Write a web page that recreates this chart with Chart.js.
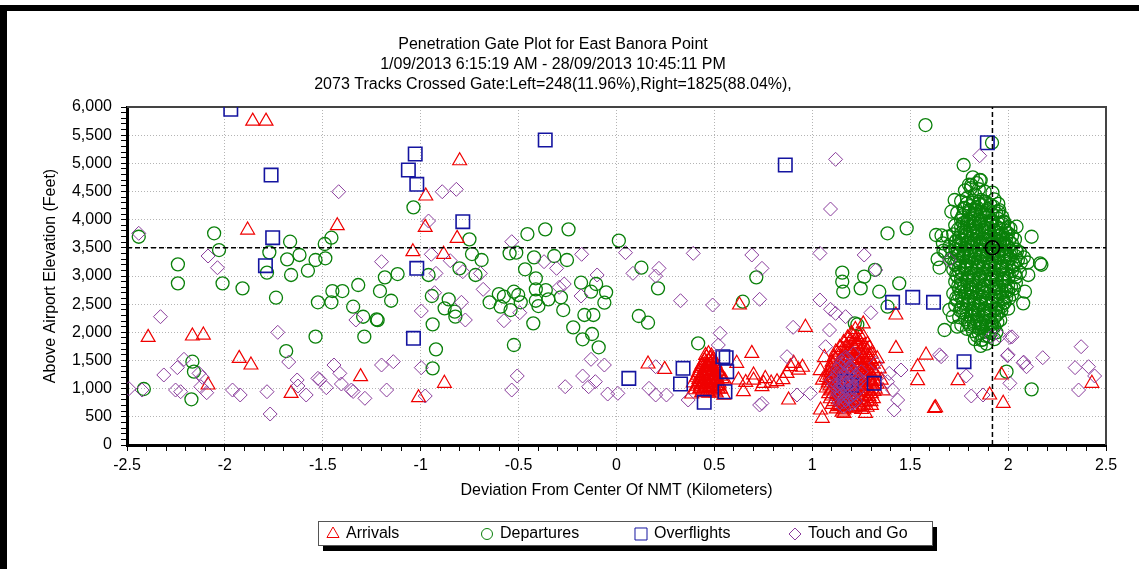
<!DOCTYPE html>
<html>
<head>
<meta charset="utf-8">
<title>Penetration Gate Plot</title>
<script src="https://cdn.jsdelivr.net/npm/chart.js@4.4.0/dist/chart.umd.min.js"></script>
<style>
    html, body { margin: 0; padding: 0; background: #fff; overflow: hidden; }
    canvas { display: block; }
</style>
</head>
<body>
<canvas id="gate-chart" width="1139" height="569"></canvas>
<script>
// Titles and labels
const titleLines = [
    "Penetration Gate Plot for East Banora Point",
    "1/09/2013 6:15:19 AM - 28/09/2013 10:45:11 PM",
    "2073 Tracks Crossed Gate:Left=248(11.96%),Right=1825(88.04%),",
];
const xAxisTitle = "Deviation From Center Of NMT (Kilometers)";
const yAxisTitle = "Above Airport Elevation (Feet)";
const seriesNames = ["Arrivals", "Departures", "Overflights", "Touch and Go"];

// Axis ranges and gate centre
const xRange = [-2.5, 2.5];
const yRange = [0, 6000];
const gateX = 1.92;
const gateY = 3500;

// Arrivals (km, ft)
const arrivals = [
    [-1.858, 5750], [-1.79, 5750], [-1.884, 3816], [-1.426, 3893], [-0.974, 4420], [-0.977, 3864],
    [-1.04, 3431], [-0.883, 3385], [-0.801, 5046], [-0.814, 3668], [-2.392, 1911], [-2.166, 1935],
    [-2.11, 1952], [-1.927, 1538], [-1.867, 1420], [-2.086, 1065], [-1.662, 917], [-1.307, 1213],
    [-1.011, 840], [-0.879, 1095], [0.161, 1438], [0.246, 1343], [0.628, 2485], [0.691, 1627],
    [0.7, 1243], [0.623, 1154], [0.614, 1450], [0.743, 1035], [0.648, 946], [1.427, 2308], [1.427, 1716],
    [1.581, 1597], [1.538, 1390], [1.538, 1141], [1.744, 1141], [1.624, 650], [1.63, 662], [1.906, 888],
    [1.975, 740], [1.966, 1243], [2.428, 1095], [0.965, 2089], [0.751, 1095], [0.82, 1124], [0.79, 1100],
    [0.85, 1160], [0.888, 1390], [0.905, 1450], [0.871, 1272], [0.879, 799], [0.93, 1330], [0.66, 1110],
    [0.7, 1150], [0.76, 1180], [0.95, 1380], [1.042, 621], [1.051, 474], [1.162, 562],
    // cluster near 0.47 km
    [0.47, 1620], [0.46, 1555], [0.485, 1580], [0.45, 1500], [0.472, 1488], [0.494, 1525], [0.438, 1432],
    [0.462, 1418], [0.483, 1445], [0.503, 1452], [0.428, 1362], [0.452, 1349], [0.474, 1371], [0.492, 1338],
    [0.512, 1383], [0.418, 1284], [0.441, 1268], [0.463, 1292], [0.482, 1257], [0.501, 1281], [0.522, 1302],
    [0.409, 1203], [0.432, 1187], [0.451, 1214], [0.473, 1178], [0.492, 1204], [0.513, 1186], [0.531, 1222],
    [0.421, 1124], [0.443, 1098], [0.462, 1133], [0.484, 1109], [0.503, 1121], [0.524, 1097], [0.412, 1043],
    [0.433, 1028], [0.452, 1052], [0.471, 1019], [0.493, 1041], [0.514, 1032], [0.441, 962], [0.463, 948],
    [0.482, 973], [0.502, 958], [0.402, 981], [0.532, 993], [0.392, 1102], [0.552, 1152], [0.384, 905],
    [0.548, 884], [0.455, 1590], [0.478, 1530], [0.458, 1465], [0.49, 1480], [0.437, 1395], [0.467, 1400],
    [0.5, 1410], [0.425, 1318], [0.458, 1325], [0.488, 1310], [0.515, 1330], [0.416, 1240], [0.447, 1232],
    [0.478, 1226], [0.51, 1240], [0.528, 1262], [0.42, 1162], [0.452, 1170], [0.482, 1148], [0.512, 1155],
    [0.54, 1180], [0.43, 1072], [0.462, 1075], [0.494, 1078], [0.522, 1060], [0.425, 1000], [0.455, 995],
    [0.487, 1005], [0.52, 995], [0.435, 930], [0.472, 920], [0.51, 925],
    // cluster near 1.2 km
    [1.22, 2050], [1.26, 2150], [1.2, 1980], [1.24, 1960], [1.18, 1900], [1.222, 1880], [1.262, 1912],
    [1.16, 1820], [1.203, 1802], [1.243, 1833], [1.282, 1791], [1.14, 1730], [1.181, 1712], [1.213, 1741],
    [1.251, 1703], [1.292, 1722], [1.12, 1650], [1.162, 1631], [1.198, 1662], [1.232, 1618], [1.271, 1642],
    [1.302, 1611], [1.111, 1560], [1.152, 1541], [1.191, 1572], [1.224, 1533], [1.262, 1552], [1.291, 1521],
    [1.101, 1472], [1.133, 1451], [1.172, 1483], [1.21, 1441], [1.243, 1469], [1.281, 1452], [1.312, 1433],
    [1.092, 1381], [1.121, 1362], [1.163, 1392], [1.191, 1351], [1.232, 1372], [1.271, 1341], [1.302, 1362],
    [1.083, 1291], [1.112, 1272], [1.151, 1302], [1.182, 1262], [1.221, 1283], [1.252, 1251], [1.291, 1292],
    [1.322, 1263], [1.072, 1202], [1.101, 1181], [1.142, 1212], [1.171, 1172], [1.212, 1193], [1.241, 1161],
    [1.282, 1203], [1.311, 1172], [1.081, 1102], [1.122, 1091], [1.153, 1121], [1.192, 1083], [1.231, 1112],
    [1.262, 1071], [1.301, 1103], [1.331, 1082], [1.071, 1012], [1.102, 991], [1.141, 1022], [1.182, 982],
    [1.212, 1003], [1.251, 972], [1.282, 1011], [1.322, 992], [1.083, 912], [1.122, 893], [1.161, 921],
    [1.192, 882], [1.232, 903], [1.271, 871], [1.302, 912], [1.092, 821], [1.132, 802], [1.171, 832],
    [1.203, 791], [1.242, 812], [1.281, 782], [1.312, 823], [1.102, 722], [1.141, 701], [1.182, 733],
    [1.221, 692], [1.262, 712], [1.302, 703], [1.122, 641], [1.162, 622], [1.203, 653], [1.252, 633],
    [1.052, 1152], [1.041, 1322], [1.352, 1151], [1.342, 1352], [1.361, 962], [1.332, 1532], [1.062, 1552],
    [1.152, 582], [1.272, 561],
    [1.21, 1930], [1.235, 1870], [1.195, 1850], [1.175, 1760], [1.228, 1780], [1.265, 1760], [1.155, 1690],
    [1.19, 1680], [1.245, 1670], [1.28, 1680], [1.13, 1600], [1.17, 1590], [1.215, 1580], [1.25, 1600],
    [1.285, 1580], [1.12, 1510], [1.16, 1515], [1.2, 1500], [1.235, 1510], [1.27, 1500], [1.3, 1490],
    [1.105, 1420], [1.14, 1410], [1.18, 1400], [1.22, 1410], [1.26, 1400], [1.295, 1410], [1.1, 1330],
    [1.135, 1320], [1.175, 1310], [1.21, 1320], [1.25, 1310], [1.285, 1320], [1.315, 1310], [1.09, 1240],
    [1.13, 1240], [1.16, 1230], [1.2, 1240], [1.235, 1225], [1.27, 1235], [1.305, 1225], [1.085, 1150],
    [1.125, 1145], [1.16, 1150], [1.2, 1140], [1.235, 1150], [1.27, 1140], [1.3, 1150], [1.32, 1130],
    [1.09, 1050], [1.13, 1045], [1.165, 1060], [1.2, 1040], [1.24, 1050], [1.275, 1040], [1.31, 1050],
    [1.095, 960], [1.135, 950], [1.17, 965], [1.21, 955], [1.245, 940], [1.285, 960], [1.315, 950],
    [1.1, 870], [1.14, 860], [1.18, 850], [1.215, 860], [1.255, 850], [1.29, 860], [1.11, 770], [1.15, 760],
    [1.19, 770], [1.23, 760], [1.27, 750], [1.3, 770], [1.13, 680], [1.17, 670], [1.21, 660], [1.24, 680],
    [1.28, 670],
];

// Departures (km, ft)
const departures = [
    [-2.44, 3697], [-2.055, 3758], [-2.03, 3461], [-1.667, 3609], [-1.773, 3420], [-1.785, 3059],
    [-1.682, 3296], [-1.619, 3373], [-1.662, 3018], [-1.576, 3094], [-1.537, 3284], [-1.487, 3314],
    [-1.49, 3568], [-1.456, 3680], [-2.24, 3207], [-2.24, 2870], [-2.012, 2870], [-1.91, 2781],
    [-1.739, 2615], [-0.96, 3018], [-1.183, 2976], [-1.118, 3035], [-1.319, 2840], [-1.208, 2733],
    [-1.151, 2561], [-1.451, 2733], [-1.4, 2733], [-1.525, 2533], [-1.456, 2533], [-0.943, 2645],
    [-0.878, 2426], [-1.345, 2455], [-1.294, 2277], [-1.225, 2231], [-1.22, 2215], [-0.939, 2142],
    [-1.288, 1923], [-1.537, 1923], [-1.687, 1668], [-0.922, 1698], [-0.939, 1361], [-2.166, 1479],
    [-2.158, 1302], [-2.414, 994], [-2.171, 811], [-1.037, 4219],
    [-0.751, 3651], [-0.738, 3390], [-0.689, 3284], [-0.802, 3136], [-0.72, 3018], [-0.857, 2586],
    [-0.826, 2366], [-0.823, 2278], [-0.455, 3745], [-0.364, 3828], [-0.245, 3828], [0.012, 3627],
    [-0.546, 3402], [-0.512, 3414], [-0.421, 3331], [-0.318, 3355], [-0.253, 3284], [-0.467, 3119],
    [-0.412, 2959], [-0.601, 2680], [-0.575, 2633], [-0.524, 2721], [-0.502, 2663], [-0.412, 2763],
    [-0.361, 2751], [-0.648, 2533], [-0.592, 2455], [-0.541, 2396], [-0.489, 2533], [-0.412, 2561],
    [-0.399, 2467], [-0.348, 2586], [-0.284, 2622], [-0.272, 2396], [-0.425, 2160], [-0.524, 1775],
    [-0.181, 2881], [-0.13, 2721], [-0.104, 2858], [-0.053, 2710], [-0.062, 2526], [-0.164, 2308],
    [-0.118, 2308], [-0.221, 2089], [-0.173, 1876], [-0.125, 1970], [-0.091, 1734], [0.127, 3147],
    [0.212, 2781], [0.114, 2290], [0.161, 2171], [0.645, 2544], [0.714, 2976], [0.417, 1805],
    [1.153, 3059], [1.153, 2899], [1.158, 2721], [1.247, 2781], [1.265, 2988], [1.342, 2721],
    [1.444, 2870], [1.384, 2455], [1.32, 3110], [1.217, 2160], [1.23, 2140], [1.384, 3758],
    [1.482, 3846], [1.578, 5680], [1.918, 5366], [1.773, 4970], [1.992, 1302], [2.12, 988],
    // cluster near 1.85 km
    [1.82, 4750], [1.86, 4700], [1.84, 4650], [1.80, 4620], [1.855, 4704], [1.812, 4615],
    [1.78, 4520], [1.81, 4560], [1.85, 4540], [1.88, 4500], [1.92, 4480], [1.83, 4450],
    [1.76, 4330], [1.79, 4380], [1.82, 4300], [1.86, 4350], [1.89, 4310], [1.93, 4360], [1.95, 4280],
    [1.84, 4220], [1.78, 4200], [1.727, 4349], [1.71, 4141],
    [1.74, 4120], [1.77, 4080], [1.8, 4150], [1.83, 4100], [1.87, 4130], [1.9, 4070], [1.94, 4110],
    [1.97, 4050], [1.85, 4010], [1.76, 3990], [1.81, 3960], [2.043, 3875],
    [1.73, 3900], [1.76, 3870], [1.79, 3920], [1.82, 3880], [1.85, 3930], [1.88, 3860], [1.91, 3910],
    [1.94, 3880], [1.97, 3930], [2.0, 3870], [1.84, 3800], [1.78, 3780], [1.9, 3790], [1.95, 3770],
    [1.69, 3700], [1.72, 3740], [1.75, 3680], [1.78, 3720], [1.81, 3660], [1.84, 3710], [1.87, 3650],
    [1.9, 3700], [1.93, 3660], [1.96, 3720], [1.99, 3670], [2.02, 3710], [1.66, 3720], [1.73, 3600],
    [1.79, 3590], [1.86, 3580], [1.92, 3600], [1.98, 3580], [1.632, 3728], [1.667, 3580], [2.12, 3697],
    [1.7, 3520], [1.73, 3480], [1.76, 3540], [1.79, 3470], [1.82, 3510], [1.85, 3450], [1.88, 3530],
    [1.91, 3470], [1.94, 3520], [1.97, 3460], [2.0, 3510], [2.04, 3470], [1.68, 3420], [1.75, 3400],
    [1.81, 3390], [1.87, 3380], [1.93, 3400], [1.99, 3380], [2.06, 3420], [1.67, 3450],
    [1.71, 3320], [1.74, 3280], [1.77, 3330], [1.8, 3270], [1.83, 3310], [1.86, 3260], [1.89, 3320],
    [1.92, 3280], [1.95, 3330], [1.98, 3270], [2.01, 3310], [2.05, 3280], [2.08, 3330], [1.73, 3200],
    [1.79, 3190], [1.85, 3180], [1.91, 3200], [1.97, 3170], [2.03, 3200], [2.17, 3200], [2.1, 3240],
    [1.64, 3300], [1.65, 3150], [2.163, 3225],
    [1.72, 3110], [1.75, 3070], [1.78, 3120], [1.81, 3060], [1.84, 3100], [1.87, 3050], [1.9, 3110],
    [1.93, 3060], [1.96, 3100], [1.99, 3040], [2.02, 3090], [2.06, 3060], [1.74, 2990], [1.8, 2980],
    [1.86, 2970], [1.92, 2990], [1.98, 2960], [2.04, 2980], [2.103, 3018],
    [1.73, 2900], [1.76, 2860], [1.79, 2910], [1.82, 2850], [1.85, 2890], [1.88, 2840], [1.91, 2900],
    [1.94, 2850], [1.97, 2890], [2.0, 2830], [2.04, 2880], [1.75, 2770], [1.81, 2760], [1.87, 2750],
    [1.93, 2770], [1.99, 2740], [2.03, 2780], [2.086, 2721],
    [1.72, 2690], [1.75, 2650], [1.78, 2700], [1.81, 2640], [1.84, 2680], [1.87, 2630], [1.9, 2690],
    [1.93, 2640], [1.96, 2680], [1.99, 2620], [2.02, 2670], [1.74, 2560], [1.8, 2550], [1.86, 2540],
    [1.92, 2560], [1.98, 2530], [2.077, 2515],
    [1.73, 2480], [1.76, 2440], [1.79, 2490], [1.82, 2430], [1.85, 2470], [1.88, 2420], [1.91, 2480],
    [1.94, 2430], [1.97, 2470], [2.0, 2420], [1.77, 2350], [1.83, 2340], [1.89, 2330], [1.95, 2350],
    [1.7, 2400], [1.718, 2277],
    [1.75, 2270], [1.78, 2230], [1.81, 2280], [1.84, 2220], [1.87, 2260], [1.9, 2210], [1.93, 2270],
    [1.96, 2220], [1.8, 2150], [1.86, 2140], [1.92, 2150], [1.74, 2100], [1.761, 2130], [1.675, 2041],
    [1.79, 2060], [1.82, 2020], [1.85, 2070], [1.88, 2010], [1.91, 2050], [1.94, 2000], [1.84, 1940],
    [1.9, 1930], [1.87, 1870], [1.83, 1880], [1.93, 1880], [1.89, 1800], [1.86, 1760], [1.863, 1864],
    [1.775, 4210], [1.805, 4240], [1.835, 4180], [1.865, 4260], [1.895, 4190], [1.925, 4230], [1.955, 4170],
    [1.765, 4040], [1.795, 4010], [1.825, 4060], [1.862, 3990], [1.888, 4030], [1.918, 3980], [1.948, 4020],
    [1.978, 3970], [1.745, 3830], [1.775, 3850], [1.805, 3810], [1.835, 3860], [1.868, 3820], [1.898, 3850],
    [1.928, 3810], [1.958, 3840], [1.988, 3800], [2.012, 3840], [1.735, 3630], [1.765, 3650], [1.795, 3620],
    [1.825, 3640], [1.855, 3610], [1.885, 3660], [1.915, 3630], [1.945, 3610], [1.975, 3640], [2.005, 3620],
    [2.035, 3650], [1.715, 3440], [1.745, 3460], [1.775, 3430], [1.805, 3450], [1.835, 3420], [1.865, 3470],
    [1.895, 3440], [1.925, 3430], [1.955, 3460], [1.985, 3440], [2.015, 3450], [2.045, 3430], [1.725, 3240],
    [1.755, 3230], [1.785, 3250], [1.815, 3220], [1.845, 3240], [1.875, 3210], [1.905, 3250], [1.935, 3230],
    [1.965, 3220], [1.995, 3250], [2.025, 3230], [2.065, 3240], [1.735, 3020], [1.765, 3040], [1.795, 3010],
    [1.825, 3030], [1.855, 3000], [1.885, 3040], [1.915, 3020], [1.945, 3010], [1.975, 3030], [2.005, 3000],
    [2.035, 3030], [1.745, 2820], [1.775, 2810], [1.805, 2800], [1.835, 2830], [1.865, 2800], [1.895, 2820],
    [1.925, 2810], [1.955, 2800], [1.985, 2820], [2.015, 2810], [1.735, 2610], [1.765, 2600], [1.795, 2620],
    [1.825, 2590], [1.855, 2610], [1.885, 2590], [1.915, 2600], [1.945, 2620], [1.975, 2590], [2.005, 2600],
    [1.755, 2390], [1.785, 2400], [1.815, 2380], [1.845, 2400], [1.875, 2380], [1.905, 2390], [1.935, 2400],
    [1.965, 2380], [1.795, 2180], [1.825, 2190], [1.855, 2180], [1.885, 2190], [1.915, 2170], [1.945, 2180],
    [1.81, 2100], [1.87, 2110], [1.93, 2100], [1.85, 1990], [1.91, 1990], [1.88, 1940],
    [1.79, 4290], [1.82, 4330], [1.85, 4280], [1.88, 4320], [1.91, 4260], [1.8, 4120], [1.83, 4160],
    [1.86, 4090], [1.89, 4150], [1.92, 4100], [1.95, 4140], [1.77, 3940], [1.8, 3970], [1.83, 3930],
    [1.86, 3960], [1.89, 3940], [1.92, 3960], [1.95, 3930], [1.98, 3950], [1.76, 3760], [1.79, 3740],
    [1.82, 3770], [1.85, 3750], [1.88, 3760], [1.91, 3740], [1.94, 3770], [1.97, 3750], [2.0, 3760],
    [1.75, 3570], [1.78, 3560], [1.81, 3580], [1.84, 3550], [1.87, 3570], [1.9, 3560], [1.93, 3550],
    [1.96, 3570], [1.99, 3560], [2.02, 3570], [1.74, 3360], [1.77, 3370], [1.8, 3340], [1.83, 3360],
    [1.86, 3350], [1.89, 3370], [1.92, 3350], [1.95, 3360], [1.98, 3340], [2.01, 3370], [2.04, 3350],
    [1.75, 3150], [1.78, 3160], [1.81, 3140], [1.84, 3150], [1.87, 3130], [1.9, 3160], [1.93, 3140],
    [1.96, 3150], [1.99, 3130], [2.02, 3160], [1.76, 2940], [1.79, 2950], [1.82, 2930], [1.85, 2950],
    [1.88, 2930], [1.91, 2950], [1.94, 2940], [1.97, 2930], [2.0, 2950], [1.76, 2720], [1.79, 2740],
    [1.82, 2710], [1.85, 2730], [1.88, 2710], [1.91, 2730], [1.94, 2720], [1.97, 2710], [2.0, 2730],
    [1.77, 2520], [1.8, 2500], [1.83, 2520], [1.86, 2500], [1.89, 2520], [1.92, 2510], [1.95, 2500],
    [1.98, 2520], [1.79, 2310], [1.82, 2300], [1.85, 2320], [1.88, 2300], [1.91, 2310], [1.94, 2300],
    [1.83, 2110], [1.86, 2090], [1.89, 2110], [1.92, 2090],
];

// Overflights (km, ft)
const overflights = [
    [-1.97, 5960], [-1.028, 5165], [-1.063, 4881], [-1.02, 4627], [-1.764, 4792], [-1.756, 3680],
    [-1.793, 3183], [-1.02, 3136], [-1.037, 1894], [-0.364, 5414], [-0.785, 3964], [0.063, 1183],
    [0.34, 1361], [0.327, 1083], [0.448, 758], [0.543, 1568], [0.56, 1550], [0.563, 1302], [0.554, 946],
    [0.862, 4970], [1.41, 2533], [1.513, 2622], [1.619, 2533], [1.775, 1479], [1.894, 5366],
    [1.316, 1095], [1.17, 1130], [1.2, 1060],
];

// Touch and Go (km, ft)
const touchAndGo = [
    [-1.419, 4496], [-0.89, 4496], [-0.96, 3976], [-2.44, 3758], [-0.946, 3385], [-2.086, 3355],
    [-2.038, 3147], [-1.2, 3254], [-0.922, 3047], [-0.929, 2703], [-1.331, 2219], [-0.997, 2379],
    [-2.329, 2278], [-1.73, 2000], [-2.209, 1521], [-2.243, 1373], [-2.312, 1243], [-2.132, 1272],
    [-2.115, 1202], [-2.123, 1035], [-2.093, 928], [-2.423, 976], [-2.252, 976], [-2.226, 946],
    [-1.961, 976], [-1.922, 888], [-1.785, 946], [-1.769, 550], [-1.674, 1473], [-1.631, 1154],
    [-1.627, 1047], [-1.585, 888], [-1.525, 1183], [-1.515, 1160], [-1.482, 1017], [-1.443, 1420],
    [-1.413, 1272], [-1.405, 1083], [-1.354, 976], [-1.345, 950], [-1.285, 829], [-1.2, 1420],
    [-1.14, 1479], [-1.174, 976], [-0.997, 1373], [-0.977, 870], [-2.49, 1000],
    [-0.818, 4538], [-0.849, 3271], [-0.785, 3077], [-0.695, 3047], [-0.681, 2763], [-0.792, 2533],
    [-0.772, 2219], [-0.535, 3609], [0.046, 3414], [-0.178, 3385], [-0.37, 3254], [-0.306, 3136],
    [-0.267, 2858], [-0.293, 2799], [-0.099, 3018], [-0.181, 2645], [-0.575, 2206], [-0.494, 2348],
    [0.084, 3047], [0.217, 3136], [0.2, 3000], [0.327, 2561], [0.491, 2485], [0.731, 2586],
    [0.691, 3373], [0.743, 3136], [0.392, 3402], [0.529, 1983], [0.52, 1775], [-0.13, 1521],
    [-0.062, 1420], [-0.507, 1225], [-0.535, 976], [-0.262, 1035], [-0.173, 1225], [-0.142, 1035],
    [-0.108, 1124], [-0.045, 905], [0.007, 917], [0.2, 1390], [0.166, 1006], [0.2, 888], [0.255, 888],
    [0.366, 799], [0.731, 710], [0.743, 740],
    [1.119, 5071], [1.093, 4189], [1.039, 3402], [1.265, 3373], [1.324, 3106], [1.039, 2574],
    [1.093, 2409], [1.299, 2348], [1.17, 2278], [1.119, 2337], [0.902, 2089], [1.088, 2041],
    [1.068, 1745], [0.871, 1568], [0.922, 888], [0.99, 917], [1.324, 1450], [1.393, 1272], [1.41, 976],
    [1.436, 799], [1.453, 1331], [1.384, 1124], [1.418, 621], [1.658, 1568], [1.65, 1600], [1.786, 1225],
    [1.812, 870], [1.872, 888], [2.009, 1095], [2.009, 1912], [1.997, 1586], [2.0, 1600], [2.077, 1461],
    [2.08, 1470], [2.094, 1390], [2.177, 1550], [2.373, 1745], [2.342, 1373], [2.411, 1390],
    [2.442, 1225], [2.36, 976], [1.958, 1935], [1.915, 1923], [2.02, 1920], [1.855, 5135], [1.7, 3284],
    // inside the 1.2 km cluster
    [1.15, 1500], [1.18, 1420], [1.13, 1350], [1.2, 1330], [1.16, 1260], [1.22, 1230], [1.12, 1200],
    [1.18, 1180], [1.14, 1120], [1.2, 1100], [1.24, 1140], [1.11, 1060], [1.16, 1040], [1.21, 1010],
    [1.13, 980], [1.18, 950], [1.15, 900], [1.2, 870], [1.12, 840], [1.17, 800], [1.22, 780], [1.14, 740],
    [1.19, 720], [1.16, 680], [1.23, 960], [1.1, 1150], [1.25, 1300], [1.17, 1560], [1.21, 1620],
    [1.14, 1420], [1.19, 1240], [1.13, 1070], [1.165, 1450], [1.195, 1380], [1.145, 1300], [1.185, 1290],
    [1.21, 1180], [1.155, 1180], [1.175, 1090], [1.225, 1080], [1.145, 1010], [1.195, 1000], [1.165, 930],
    [1.215, 910], [1.14, 870], [1.19, 840], [1.16, 760], [1.21, 740], [1.175, 1530], [1.125, 1270],
    [1.235, 1200], [1.13, 920],
];

const seriesColors = ["#f00000", "#0a800a", "#1414a0", "#8a3c9c"];
const fontFamily = "'Liberation Sans', Arial, sans-serif";

const toPoints = (rows) => rows.map(([x, y]) => ({ x: x, y: y }));

// White page with the black frame along the top and left
const pageFrame = {
    id: "pageFrame",
    beforeDraw(chart) {
        const ctx = chart.ctx;
        ctx.save();
        ctx.fillStyle = "#fff";
        ctx.fillRect(0, 0, chart.width, chart.height);
        ctx.fillStyle = "#000";
        ctx.fillRect(0, 5, chart.width, 6);
        ctx.fillRect(0, 5, 7, chart.height);
        ctx.restore();
    },
    beforeDatasetsDraw(chart) {
        // thin top and right edges of the plot box
        const { ctx, chartArea } = chart;
        ctx.save();
        ctx.strokeStyle = "#444";
        ctx.lineWidth = 2;
        ctx.beginPath();
        ctx.moveTo(chartArea.left, chartArea.top);
        ctx.lineTo(chartArea.right, chartArea.top);
        ctx.lineTo(chartArea.right, chartArea.bottom);
        ctx.stroke();
        ctx.restore();
    },
};

// Boxed legend with a drop shadow under the x axis title
const boxedLegend = {
    id: "boxedLegend",
    afterDraw(chart) {
        const ctx = chart.ctx;
        const left = 318, top = 521, width = 614, height = 24;
        ctx.save();
        ctx.fillStyle = "#000";
        ctx.fillRect(left + 5, top + 6, width, height);
        ctx.fillStyle = "#fff";
        ctx.fillRect(left, top, width, height);
        ctx.strokeStyle = "#555";
        ctx.lineWidth = 1;
        ctx.strokeRect(left + 0.5, top + 0.5, width, height);

        const series = chart.data.datasets.filter((ds) => seriesNames.includes(ds.label));
        seriesNames.forEach((name, i) => {
            const ds = series.find((d) => d.label === name);
            const cx = left + 15 + i * 154;
            const cy = top + height / 2 + 1;
            ctx.strokeStyle = ds.borderColor;
            ctx.fillStyle = "rgba(0,0,0,0)";
            Chart.helpers.drawPoint(ctx, { pointStyle: ds.pointStyle, radius: ds.legendRadius, borderWidth: 1.2 }, cx, cy);
            ctx.fillStyle = "#000";
            ctx.font = "16px " + fontFamily;
            ctx.textBaseline = "middle";
            ctx.fillText(name, cx + 13, cy);
        });
        ctx.restore();
    },
};

const isStep = (value, step) => Math.abs(value / step - Math.round(value / step)) < 1e-6;

const chartCanvas = document.getElementById("gate-chart");

const gateChart = new Chart(chartCanvas, {
    type: "scatter",
    data: {
        datasets: [
            {
                label: "gate-horizontal",
                data: [{ x: xRange[0], y: gateY }, { x: xRange[1], y: gateY }],
                showLine: true,
                borderColor: "#000",
                borderWidth: 1.5,
                borderDash: [5, 3],
                pointRadius: 0,
                order: 0,
            },
            {
                label: "gate-vertical",
                data: [{ x: gateX, y: yRange[0] }, { x: gateX, y: yRange[1] }],
                showLine: true,
                borderColor: "#000",
                borderWidth: 1.5,
                borderDash: [5, 3],
                pointRadius: 0,
                order: 0,
            },
            {
                label: "gate-centre",
                data: [{ x: gateX, y: gateY }],
                pointStyle: "circle",
                pointRadius: 7,
                borderColor: "#000",
                backgroundColor: "rgba(0,0,0,0)",
                borderWidth: 1.5,
                order: 0,
            },
            {
                label: seriesNames[3],
                data: toPoints(touchAndGo),
                pointStyle: "rectRot",
                pointRadius: 7,
                legendRadius: 6,
                borderColor: seriesColors[3],
                backgroundColor: "rgba(0,0,0,0)",
                borderWidth: 1,
                order: 1,
            },
            {
                label: seriesNames[2],
                data: toPoints(overflights),
                pointStyle: "rect",
                pointRadius: 9.5,
                legendRadius: 8.5,
                borderColor: seriesColors[2],
                backgroundColor: "rgba(0,0,0,0)",
                borderWidth: 1.6,
                order: 2,
            },
            {
                label: seriesNames[0],
                data: toPoints(arrivals),
                pointStyle: "triangle",
                pointRadius: 8,
                legendRadius: 7,
                borderColor: seriesColors[0],
                backgroundColor: "rgba(0,0,0,0)",
                borderWidth: 1.2,
                order: 3,
            },
            {
                label: seriesNames[1],
                data: toPoints(departures),
                pointStyle: "circle",
                pointRadius: 6.5,
                legendRadius: 5.5,
                borderColor: seriesColors[1],
                backgroundColor: "rgba(0,0,0,0)",
                borderWidth: 1.3,
                order: 4,
            },
        ],
    },
    options: {
        responsive: false,
        animation: false,
        events: [],
        layout: {
            padding: { left: 0, right: 33, top: 0, bottom: 0 },
        },
        plugins: {
            legend: { display: false },
            tooltip: { enabled: false },
            title: {
                display: true,
                text: titleLines,
                color: "#000",
                font: { family: fontFamily, size: 16, weight: "normal", lineHeight: 1.25 },
                padding: { top: 35, bottom: 12 },
            },
        },
        scales: {
            x: {
                type: "linear",
                min: xRange[0],
                max: xRange[1],
                afterFit(scale) {
                    scale.height = 124;
                },
                ticks: {
                    stepSize: 0.1,
                    autoSkip: false,
                    maxRotation: 0,
                    padding: 5,
                    color: "#000",
                    font: { family: fontFamily, size: 16 },
                    callback(value) {
                        const v = Math.round(value * 10) / 10;
                        return isStep(v, 0.5) ? String(v) : "";
                    },
                },
                grid: {
                    color: (ctx) => (ctx.tick && isStep(ctx.tick.value, 0.5) ? "#b4b4b4" : "rgba(0,0,0,0)"),
                    tickColor: "#000",
                    tickLength: 6,
                    lineWidth: 1,
                },
                border: { color: "#000", width: 3, dash: [1, 2] },
                title: {
                    display: true,
                    text: xAxisTitle,
                    color: "#000",
                    font: { family: fontFamily, size: 16 },
                    padding: { top: 0, bottom: 69 },
                },
            },
            y: {
                type: "linear",
                min: yRange[0],
                max: yRange[1],
                afterFit(scale) {
                    scale.width = 127;
                },
                ticks: {
                    stepSize: 100,
                    autoSkip: false,
                    padding: 9,
                    color: "#000",
                    font: { family: fontFamily, size: 16 },
                    callback(value) {
                        return isStep(value, 500) ? value.toLocaleString("en-US") : "";
                    },
                },
                grid: {
                    color: (ctx) => (ctx.tick && isStep(ctx.tick.value, 500) ? "#b4b4b4" : "rgba(0,0,0,0)"),
                    tickColor: "#000",
                    tickLength: 6,
                    lineWidth: 1,
                },
                border: { color: "#000", width: 3, dash: [1, 2] },
                title: {
                    display: true,
                    text: yAxisTitle,
                    color: "#000",
                    font: { family: fontFamily, size: 16 },
                    padding: { top: 41, bottom: 0 },
                },
            },
        },
    },
    plugins: [pageFrame, boxedLegend],
});
</script>
</body>
</html>
